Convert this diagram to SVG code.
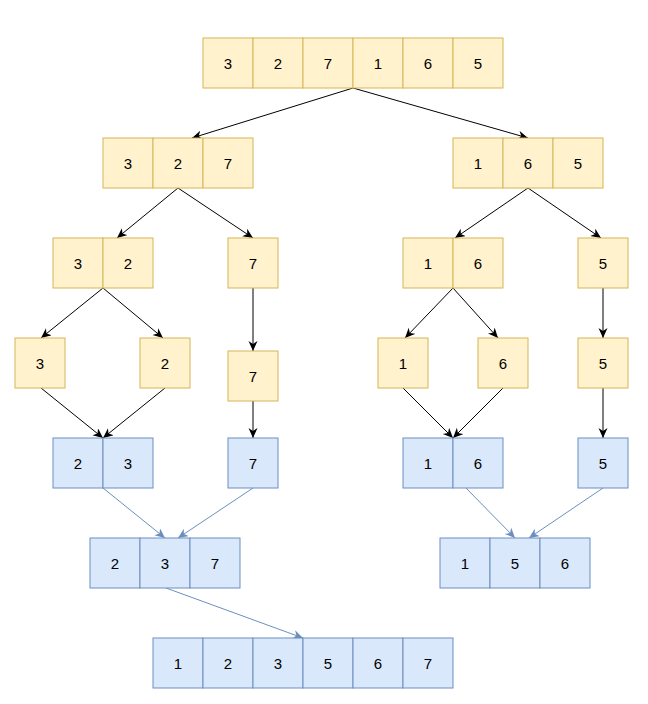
<svg xmlns="http://www.w3.org/2000/svg" width="648" height="704" viewBox="0 0 648 704">
<defs>
<style>
.y{fill:#fff2cc;stroke:#d6b656;stroke-width:1}
.b{fill:#dae8fc;stroke:#6c8ebf;stroke-width:1}
text{font-family:"Liberation Sans",Arial,sans-serif;font-size:15px;fill:#000;text-anchor:middle}
.k{stroke:#000;stroke-width:1;fill:none;marker-end:url(#ak)}
.l{stroke:#6c8ebf;stroke-width:1;fill:none;marker-end:url(#ab)}
</style>
<marker id="ak" markerUnits="userSpaceOnUse" markerWidth="11" markerHeight="10" refX="10" refY="4.5" orient="auto" viewBox="0 0 11 10"><path d="M0,0 L10,4.5 L0,9 L3,4.5 Z" fill="#000"/></marker>
<marker id="ab" markerUnits="userSpaceOnUse" markerWidth="11" markerHeight="10" refX="10" refY="4.5" orient="auto" viewBox="0 0 11 10"><path d="M0,0 L10,4.5 L0,9 L3,4.5 Z" fill="#6c8ebf"/></marker>
</defs>
<rect width="648" height="704" fill="#fff"/>
<g id="connectors">
<line class="k" x1="353" y1="88" x2="192" y2="138"/>
<line class="k" x1="353" y1="88" x2="528" y2="138"/>
<line class="k" x1="178" y1="188" x2="117" y2="238"/>
<line class="k" x1="178" y1="188" x2="253" y2="238"/>
<line class="k" x1="528" y1="188" x2="455" y2="238"/>
<line class="k" x1="528" y1="188" x2="601" y2="238"/>
<line class="k" x1="103" y1="288" x2="41" y2="338"/>
<line class="k" x1="103" y1="288" x2="163" y2="338"/>
<line class="k" x1="253" y1="288" x2="253" y2="351"/>
<line class="k" x1="453" y1="288" x2="405" y2="338"/>
<line class="k" x1="453" y1="288" x2="498" y2="338"/>
<line class="k" x1="603" y1="288" x2="603" y2="338"/>
<line class="k" x1="41" y1="388" x2="103" y2="438"/>
<line class="k" x1="165" y1="388" x2="103" y2="438"/>
<line class="k" x1="253" y1="401" x2="253" y2="438"/>
<line class="k" x1="403" y1="388" x2="453" y2="438"/>
<line class="k" x1="503" y1="388" x2="453" y2="438"/>
<line class="k" x1="603" y1="388" x2="603" y2="438"/>
<line class="l" x1="103" y1="488" x2="165" y2="538"/>
<line class="l" x1="253" y1="488" x2="178" y2="538"/>
<line class="l" x1="466" y1="488" x2="515" y2="538"/>
<line class="l" x1="603" y1="488" x2="529" y2="538"/>
<line class="l" x1="166" y1="588" x2="303" y2="638"/>
</g>
<g id="row1">
<rect class="y" x="203" y="38" width="50" height="50"/><text x="228" y="68.5">3</text>
<rect class="y" x="253" y="38" width="50" height="50"/><text x="278" y="68.5">2</text>
<rect class="y" x="303" y="38" width="50" height="50"/><text x="328" y="68.5">7</text>
<rect class="y" x="353" y="38" width="50" height="50"/><text x="378" y="68.5">1</text>
<rect class="y" x="403" y="38" width="50" height="50"/><text x="428" y="68.5">6</text>
<rect class="y" x="453" y="38" width="50" height="50"/><text x="478" y="68.5">5</text>
</g>
<g id="row2-left">
<rect class="y" x="103" y="138" width="50" height="50"/><text x="128" y="168.5">3</text>
<rect class="y" x="153" y="138" width="50" height="50"/><text x="178" y="168.5">2</text>
<rect class="y" x="203" y="138" width="50" height="50"/><text x="228" y="168.5">7</text>
</g>
<g id="row2-right">
<rect class="y" x="453" y="138" width="50" height="50"/><text x="478" y="168.5">1</text>
<rect class="y" x="503" y="138" width="50" height="50"/><text x="528" y="168.5">6</text>
<rect class="y" x="553" y="138" width="50" height="50"/><text x="578" y="168.5">5</text>
</g>
<g id="row3-32">
<rect class="y" x="53" y="238" width="50" height="50"/><text x="78" y="268.5">3</text>
<rect class="y" x="103" y="238" width="50" height="50"/><text x="128" y="268.5">2</text>
</g>
<g id="row3-7">
<rect class="y" x="228" y="238" width="50" height="50"/><text x="253" y="268.5">7</text>
</g>
<g id="row3-16">
<rect class="y" x="403" y="238" width="50" height="50"/><text x="428" y="268.5">1</text>
<rect class="y" x="453" y="238" width="50" height="50"/><text x="478" y="268.5">6</text>
</g>
<g id="row3-5">
<rect class="y" x="578" y="238" width="50" height="50"/><text x="603" y="268.5">5</text>
</g>
<g id="row4-3"><rect class="y" x="15" y="338" width="50" height="50"/><text x="40" y="368.5">3</text></g>
<g id="row4-2"><rect class="y" x="140" y="338" width="50" height="50"/><text x="165" y="368.5">2</text></g>
<g id="row4-7"><rect class="y" x="228" y="351" width="50" height="50"/><text x="253" y="381.5">7</text></g>
<g id="row4-1"><rect class="y" x="378" y="338" width="50" height="50"/><text x="403" y="368.5">1</text></g>
<g id="row4-6"><rect class="y" x="478" y="338" width="50" height="50"/><text x="503" y="368.5">6</text></g>
<g id="row4-5"><rect class="y" x="578" y="338" width="50" height="50"/><text x="603" y="368.5">5</text></g>
<g id="row5-23">
<rect class="b" x="53" y="438" width="50" height="50"/><text x="78" y="468.5">2</text>
<rect class="b" x="103" y="438" width="50" height="50"/><text x="128" y="468.5">3</text>
</g>
<g id="row5-7"><rect class="b" x="228" y="438" width="50" height="50"/><text x="253" y="468.5">7</text></g>
<g id="row5-16">
<rect class="b" x="403" y="438" width="50" height="50"/><text x="428" y="468.5">1</text>
<rect class="b" x="453" y="438" width="50" height="50"/><text x="478" y="468.5">6</text>
</g>
<g id="row5-5"><rect class="b" x="578" y="438" width="50" height="50"/><text x="603" y="468.5">5</text></g>
<g id="row6-left">
<rect class="b" x="90" y="538" width="50" height="50"/><text x="115" y="568.5">2</text>
<rect class="b" x="140" y="538" width="50" height="50"/><text x="165" y="568.5">3</text>
<rect class="b" x="190" y="538" width="50" height="50"/><text x="215" y="568.5">7</text>
</g>
<g id="row6-right">
<rect class="b" x="440" y="538" width="50" height="50"/><text x="465" y="568.5">1</text>
<rect class="b" x="490" y="538" width="50" height="50"/><text x="515" y="568.5">5</text>
<rect class="b" x="540" y="538" width="50" height="50"/><text x="565" y="568.5">6</text>
</g>
<g id="row7">
<rect class="b" x="153" y="638" width="50" height="50"/><text x="178" y="668.5">1</text>
<rect class="b" x="203" y="638" width="50" height="50"/><text x="228" y="668.5">2</text>
<rect class="b" x="253" y="638" width="50" height="50"/><text x="278" y="668.5">3</text>
<rect class="b" x="303" y="638" width="50" height="50"/><text x="328" y="668.5">5</text>
<rect class="b" x="353" y="638" width="50" height="50"/><text x="378" y="668.5">6</text>
<rect class="b" x="403" y="638" width="50" height="50"/><text x="428" y="668.5">7</text>
</g>
</svg>
